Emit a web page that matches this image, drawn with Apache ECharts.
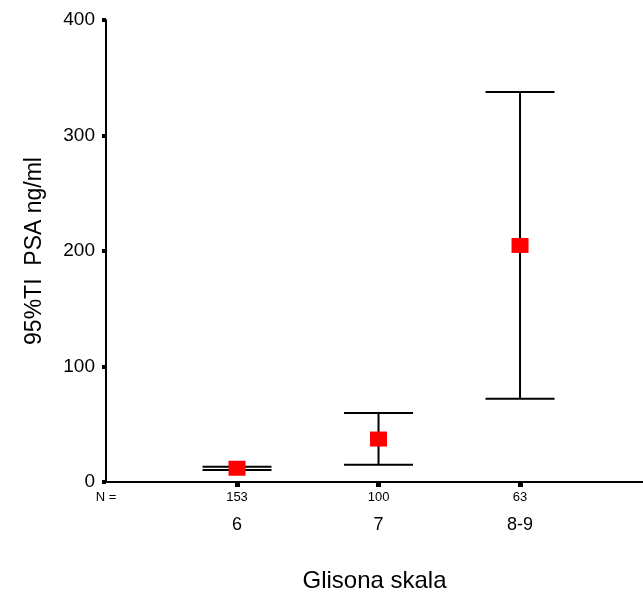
<!DOCTYPE html>
<html>
<head>
<meta charset="utf-8">
<script src="https://cdn.jsdelivr.net/npm/echarts@6/dist/echarts.min.js"></script>
<style>
html,body{margin:0;padding:0;background:#fff;}
#c{width:643px;height:595px;}
</style>
</head>
<body>
<div id="c"></div>
<script>
const categories = ['6', '7', '8-9'];
const nCounts = ['153', '100', '63'];
const means = [11.9, 37.2, 204.8];
const lower = [10.4, 15.0, 72.1];
const upper = [13.2, 59.7, 337.7];
const yTicks = [0, 100, 200, 300, 400];

const positions = categories.map((c, i) => i + 1);
const xMin = 0.0742, xMax = 3.869;
const FONT = '"Liberation Sans", Arial, sans-serif';

const chart = echarts.init(document.getElementById('c'), null, {renderer: 'canvas'});
chart.setOption({
  animation: false,
  backgroundColor: '#fff',
  grid: {left: 106, right: 0, top: 20, bottom: 113, containLabel: false, outerBoundsMode: 'none'},
  xAxis: [{
    type: 'value', min: xMin, max: xMax,
    axisLine: {show: true, lineStyle: {color: '#000', width: 2}},
    axisTick: {show: true, customValues: positions, length: 5, lineStyle: {color: '#000', width: 5}},
    splitLine: {show: false},
    axisLabel: {
      customValues: [xMin].concat(positions),
      formatter: (v) => {
        const i = positions.indexOf(v);
        return i >= 0 ? nCounts[i] : 'N =';
      },
      color: '#000', fontSize: 13, margin: 9, fontFamily: FONT
    }
  }, {
    type: 'value', min: xMin, max: xMax, position: 'bottom',
    axisLine: {show: false}, axisTick: {show: false}, splitLine: {show: false},
    axisLabel: {
      customValues: positions,
      formatter: (v) => categories[positions.indexOf(v)] || '',
      color: '#000', fontSize: 18, margin: 34, fontFamily: FONT
    },
    name: 'Glisona skala', nameLocation: 'middle', nameGap: 87,
    nameTextStyle: {color: '#000', fontSize: 24, fontFamily: FONT}
  }],
  yAxis: {
    type: 'value', min: 0, max: 400, interval: 100,
    axisLine: {show: true, lineStyle: {color: '#000', width: 2}},
    axisTick: {show: true, length: 4, lineStyle: {color: '#000', width: 4}},
    splitLine: {show: false},
    axisLabel: {
      formatter: (v) => yTicks.includes(v) ? String(v) : '',
      color: '#000', fontSize: 19, margin: 11, fontFamily: FONT
    },
    name: '95%TI  PSA ng/ml', nameLocation: 'middle', nameGap: 60,
    nameTextStyle: {color: '#000', fontSize: 23, fontFamily: FONT}
  },
  series: [{
    type: 'custom',
    xAxisIndex: 0,
    data: positions.map((p, i) => [p, lower[i], upper[i]]),
    renderItem: (params, api) => {
      const x = api.value(0);
      const lo = api.coord([x, api.value(1)]);
      const hi = api.coord([x, api.value(2)]);
      const hw = 34.5;
      const style = {stroke: '#000', lineWidth: 2};
      return {
        type: 'group',
        children: [
          {type: 'line', shape: {x1: lo[0], y1: lo[1], x2: hi[0], y2: hi[1]}, style},
          {type: 'line', shape: {x1: lo[0] - hw, y1: lo[1], x2: lo[0] + hw, y2: lo[1]}, style},
          {type: 'line', shape: {x1: hi[0] - hw, y1: hi[1], x2: hi[0] + hw, y2: hi[1]}, style}
        ]
      };
    },
    z: 2
  }, {
    type: 'scatter',
    xAxisIndex: 0,
    data: positions.map((p, i) => [p, means[i]]),
    symbol: 'rect', symbolSize: [17, 15],
    itemStyle: {color: '#ff0000', opacity: 1},
    z: 3
  }]
});
</script>
</body>
</html>
